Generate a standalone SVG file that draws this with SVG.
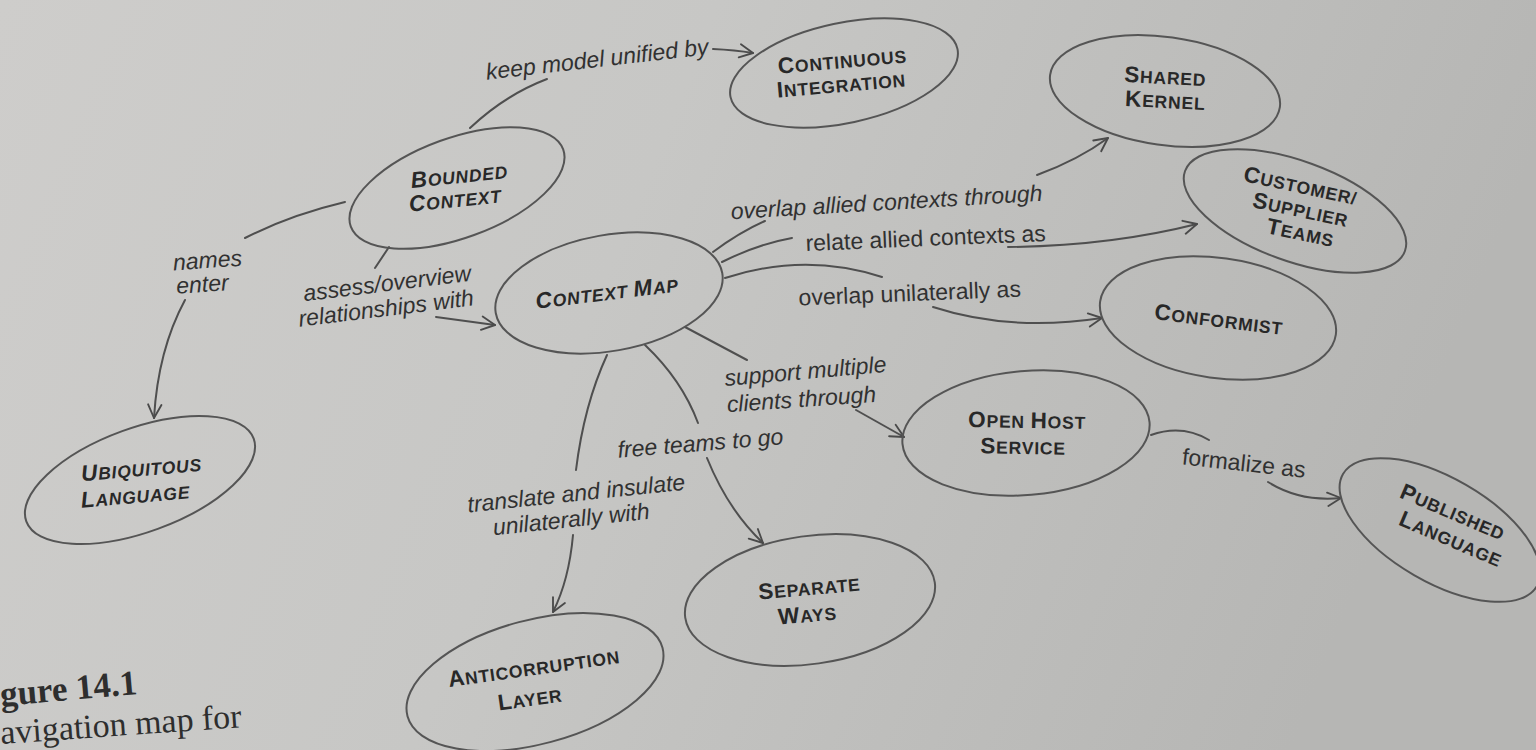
<svg xmlns="http://www.w3.org/2000/svg" width="1536" height="750" viewBox="0 0 1536 750">
  <defs>
    <linearGradient id="page" x1="0" y1="0" x2="1" y2="0.2">
      <stop offset="0" stop-color="#cecdcb"/>
      <stop offset="0.45" stop-color="#c7c7c5"/>
      <stop offset="1" stop-color="#b6b6b4"/>
    </linearGradient>
    <marker id="open" viewBox="0 0 12 12" refX="11" refY="6" markerWidth="16" markerHeight="16" markerUnits="userSpaceOnUse" orient="auto">
      <path d="M1,1 L11,6 L1,11" fill="none" stroke="#4a4a4a" stroke-width="1.4" stroke-linecap="round" stroke-linejoin="round"/>
    </marker>
    <style>
      .node ellipse { fill: none; stroke: #555; stroke-width: 2; }
      .nl { font-family: "Liberation Sans", Arial, sans-serif; font-weight: bold; font-size: 17.5px; fill: #282828; text-anchor: middle; letter-spacing: 0.8px; }
      .nl .c { font-size: 22.5px; }
      .it { font-style: italic; }
      .lbl { font-family: "Liberation Sans", Arial, sans-serif; font-size: 23px; fill: #313131; text-anchor: middle; }
      .edges path { fill: none; stroke: #4f4f4f; stroke-width: 2; stroke-linecap: round; }
      .edges path.arr { marker-end: url(#open); }
      .cap { font-family: "Liberation Serif", "Times New Roman", serif; fill: #2e2e2e; }
    </style>
  </defs>

  <!-- paper -->
  <rect width="1536" height="750" fill="url(#page)"/>

  <!-- connectors -->
  <g class="edges" id="edges">
    <!-- Bounded Context -> Continuous Integration -->
    <path d="M470,128 Q505,95 547,79"/>
    <path class="arr" d="M713,49 Q735,50 753,53"/>
    <!-- Bounded Context -> Ubiquitous Language -->
    <path d="M345,202 Q290,215 245,238"/>
    <path class="arr" d="M185,300 Q158,350 154,418"/>
    <!-- Bounded Context -> Context Map -->
    <path d="M389,247 L375,268"/>
    <path class="arr" d="M436,317 L495,325"/>
    <!-- Context Map -> Shared Kernel -->
    <path d="M713,252 Q740,232 765,221"/>
    <path class="arr" d="M1037,175 Q1078,160 1108,138"/>
    <!-- Context Map -> Customer/Supplier Teams -->
    <path d="M722,262 Q758,244 792,238"/>
    <path class="arr" d="M1008,247 Q1110,246 1197,224"/>
    <!-- Context Map -> Conformist -->
    <path d="M725,278 Q805,252 882,277"/>
    <path class="arr" d="M933,307 Q1010,332 1102,318"/>
    <!-- Context Map -> Open Host Service -->
    <path d="M685,327 L747,360"/>
    <path class="arr" d="M856,410 L904,437"/>
    <!-- Open Host Service -> Published Language -->
    <path d="M1151,435 Q1182,424 1209,440"/>
    <path class="arr" d="M1268,482 Q1300,502 1341,498"/>
    <!-- Context Map -> Separate Ways -->
    <path d="M645,345 Q682,380 698,423"/>
    <path class="arr" d="M707,458 Q728,510 763,543"/>
    <!-- Context Map -> Anticorruption Layer -->
    <path d="M607,355 Q584,405 576,470"/>
    <path class="arr" d="M573,535 Q569,580 553,612"/>
  </g>

  <!-- connector labels -->
  <g id="labels">
    <text class="lbl it" transform="translate(598,67) rotate(-6.5)">keep model unified by</text>
    <text class="lbl it" transform="translate(208,268) rotate(-4)">names</text>
    <text class="lbl it" transform="translate(203,292) rotate(-4)">enter</text>
    <text class="lbl it" transform="translate(388,291) rotate(-7)">assess/overview</text>
    <text class="lbl it" transform="translate(387,316) rotate(-7)">relationships with</text>
    <text class="lbl it" transform="translate(887,210) rotate(-3.4)" font-size="23.5">overlap allied contexts through</text>
    <text class="lbl" transform="translate(926,246) rotate(-2.4)" font-size="24">relate allied contexts as</text>
    <text class="lbl" transform="translate(910,301) rotate(-2.3)" font-size="24">overlap unilaterally as</text>
    <text class="lbl it" transform="translate(806,379) rotate(-5)">support multiple</text>
    <text class="lbl it" transform="translate(802,407) rotate(-4)">clients through</text>
    <text class="lbl it" transform="translate(701,451) rotate(-4.7)">free teams to go</text>
    <text class="lbl it" transform="translate(577,501) rotate(-6)">translate and insulate</text>
    <text class="lbl it" transform="translate(572,527) rotate(-6)">unilaterally with</text>
    <text class="lbl" transform="translate(1243,471) rotate(6.3)" font-size="24">formalize as</text>
  </g>

  <!-- nodes -->
  <g class="node" id="bounded-context">
    <ellipse cx="457" cy="188" rx="113" ry="50" transform="rotate(-20 457 188)"/>
    <text class="nl it" transform="translate(460,183) rotate(-6)"><tspan class="c">B</tspan>OUNDED</text>
    <text class="nl it" transform="translate(456,207) rotate(-6)"><tspan class="c">C</tspan>ONTEXT</text>
  </g>

  <g class="node" id="continuous-integration">
    <ellipse cx="844" cy="73" rx="116" ry="50" transform="rotate(-12 844 73)"/>
    <text class="nl" transform="translate(843,68) rotate(-5)"><tspan class="c">C</tspan>ONTINUOUS</text>
    <text class="nl" transform="translate(842,92) rotate(-5)"><tspan class="c">I</tspan>NTEGRATION</text>
  </g>

  <g class="node" id="shared-kernel">
    <ellipse cx="1165" cy="91" rx="116" ry="54" transform="rotate(8 1165 91)"/>
    <text class="nl" transform="translate(1165,84) rotate(3)"><tspan class="c">S</tspan>HARED</text>
    <text class="nl" transform="translate(1165,108) rotate(3)"><tspan class="c">K</tspan>ERNEL</text>
  </g>

  <g class="node" id="customer-supplier-teams">
    <ellipse cx="1295" cy="211" rx="117" ry="50" transform="rotate(20 1295 211)"/>
    <text class="nl" transform="translate(1299,193) rotate(12)"><tspan class="c">C</tspan>USTOMER/</text>
    <text class="nl" transform="translate(1299,217) rotate(12)"><tspan class="c">S</tspan>UPPLIER</text>
    <text class="nl" transform="translate(1299,240) rotate(12)"><tspan class="c">T</tspan>EAMS</text>
  </g>

  <g class="node" id="context-map">
    <ellipse cx="609" cy="293" rx="115" ry="58" transform="rotate(-10 609 293)"/>
    <text class="nl it" transform="translate(608,300) rotate(-7)"><tspan class="c">C</tspan>ONTEXT <tspan class="c">M</tspan>AP</text>
  </g>

  <g class="node" id="conformist">
    <ellipse cx="1218" cy="318" rx="119" ry="60" transform="rotate(8 1218 318)"/>
    <text class="nl" transform="translate(1218,327) rotate(7)"><tspan class="c">C</tspan>ONFORMIST</text>
  </g>

  <g class="node" id="open-host-service">
    <ellipse cx="1026" cy="433" rx="124" ry="62" transform="rotate(-5 1026 433)"/>
    <text class="nl" transform="translate(1027,428) rotate(1)"><tspan class="c">O</tspan>PEN <tspan class="c">H</tspan>OST</text>
    <text class="nl" transform="translate(1023,454) rotate(1)"><tspan class="c">S</tspan>ERVICE</text>
  </g>

  <g class="node" id="published-language">
    <ellipse cx="1440" cy="530" rx="112" ry="52" transform="rotate(30 1440 530)"/>
    <text class="nl" transform="translate(1450,519) rotate(23)"><tspan class="c">P</tspan>UBLISHED</text>
    <text class="nl" transform="translate(1448,546) rotate(23)"><tspan class="c">L</tspan>ANGUAGE</text>
  </g>

  <g class="node" id="ubiquitous-language">
    <ellipse cx="140" cy="480" rx="121" ry="52" transform="rotate(-20 140 480)"/>
    <text class="nl it" transform="translate(142,476) rotate(-5)"><tspan class="c">U</tspan>BIQUITOUS</text>
    <text class="nl it" transform="translate(136,503) rotate(-5)"><tspan class="c">L</tspan>ANGUAGE</text>
  </g>

  <g class="node" id="separate-ways">
    <ellipse cx="810" cy="600" rx="126" ry="64" transform="rotate(-8 810 600)"/>
    <text class="nl" transform="translate(810,595) rotate(-5)"><tspan class="c">S</tspan>EPARATE</text>
    <text class="nl" transform="translate(808,622) rotate(-5)"><tspan class="c">W</tspan>AYS</text>
  </g>

  <g class="node" id="anticorruption-layer">
    <ellipse cx="535" cy="682" rx="132" ry="62" transform="rotate(-15 535 682)"/>
    <text class="nl" transform="translate(535,675) rotate(-8)"><tspan class="c">A</tspan>NTICORRUPTION</text>
    <text class="nl" transform="translate(531,706) rotate(-8)"><tspan class="c">L</tspan>AYER</text>
  </g>

  <!-- caption fragment at the page edge -->
  <text class="cap" transform="translate(1,706) rotate(-5)" font-size="35" font-weight="bold">gure 14.1</text>
  <text class="cap" transform="translate(1,744) rotate(-4)" font-size="34">avigation map for</text>
</svg>
